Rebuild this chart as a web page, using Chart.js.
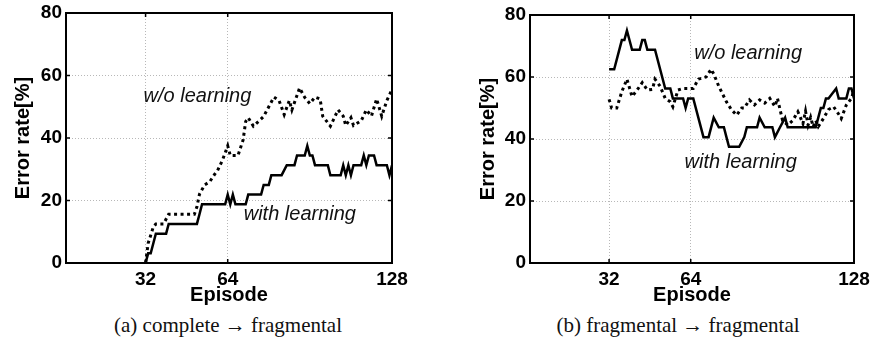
<!DOCTYPE html>
<html>
<head>
<meta charset="utf-8">
<script src="https://cdn.jsdelivr.net/npm/chart.js@4"></script>
<style>
  body { margin: 0; background: #fff; width: 870px; height: 352px; position: relative; overflow: hidden; }
  canvas { position: absolute; top: 0; }
  #chart-a { left: 0; }
  #chart-b { left: 430px; }
  .caption { position: absolute; top: 315px; font: 21px "Liberation Serif", "Times New Roman", serif; line-height: 21px; white-space: nowrap; transform: translateX(-50%); color: #111; }
</style>
</head>
<body>
<canvas id="chart-a" width="430" height="310"></canvas>
<canvas id="chart-b" width="440" height="310"></canvas>
<div class="caption" style="left:228px">(a) complete → fragmental</div>
<div class="caption" style="left:678px">(b) fragmental → fragmental</div>
<script>
const xTicks = [32, 64, 128];
const yTicks = [0, 20, 40, 60, 80];

// (a) complete -> fragmental
const aWithEp = [32, 33, 34, 36, 40, 41, 52, 53, 54, 63, 64, 65, 66, 67, 71, 72, 77, 78, 80, 81, 85, 87, 90, 91, 94, 95, 96, 97, 98, 103, 104, 108, 109, 110, 111, 112, 113, 116, 117, 118, 119, 121, 122, 126, 127, 128];
const aWithVal = [0, 3.1, 3.1, 9.4, 9.4, 12.5, 12.5, 15.6, 18.8, 18.8, 21.9, 18.8, 21.9, 18.8, 18.8, 21.9, 21.9, 25, 25, 28.1, 28.1, 31.3, 31.3, 34.4, 34.4, 37.5, 34.4, 34.4, 31.3, 31.3, 28.1, 28.1, 31.3, 28.1, 31.3, 28.1, 31.3, 31.3, 34.4, 31.3, 34.4, 34.4, 31.3, 31.3, 28.1, 31.3];
const aWithoutEp = [32, 33, 35, 36, 39, 41, 51, 52, 53, 55, 57, 59, 60, 62, 64, 65, 68, 70, 71, 72, 74, 76, 78, 80, 82, 84, 86, 88, 89, 92, 94, 96, 98, 100, 101, 104, 107, 109, 110, 112, 113, 116, 118, 120, 122, 124, 126, 128];
const aWithoutVal = [0, 6.3, 11.5, 12.5, 12.5, 15.6, 15.6, 18, 22, 25, 26, 28.5, 29.5, 33, 37.5, 34.4, 34.4, 39.4, 45.3, 46.5, 43.8, 45.3, 46.9, 50, 53.1, 52, 47.5, 52, 49, 56, 53, 51, 53.1, 52.5, 47, 43.8, 49, 47, 44, 46.5, 44, 45.5, 49, 47, 52.5, 47, 52, 55.5];

// (b) fragmental -> fragmental
const bWithEp = [32, 34, 37, 38, 39, 41, 44, 45, 46, 47, 50, 54, 56, 57, 61, 62, 63, 65, 69, 71, 73, 75, 77, 78, 79, 83, 85, 86, 90, 91, 93, 96, 97, 99, 101, 102, 113, 114, 115, 116, 117, 118, 121, 122, 125, 126, 127, 128];
const bWithVal = [62.5, 62.5, 71.9, 71.9, 75, 68.8, 68.8, 71.9, 71.9, 68.8, 68.8, 56.3, 56.3, 53.1, 53.1, 50, 53.1, 53.1, 40.6, 40.6, 46.9, 43.8, 43.8, 40.6, 37.5, 37.5, 40.6, 43.8, 43.8, 46.9, 43.8, 43.8, 40.6, 43.8, 46.9, 43.8, 43.8, 46.9, 50, 50, 53.1, 53.1, 56.3, 53.1, 53.1, 56.3, 56.3, 53.1];
const bWithoutEp = [32, 33, 35, 37, 39, 41, 43, 45, 47, 49, 50, 52, 54, 56, 57, 59, 61, 65, 67, 70, 72, 73, 75, 78, 80, 82, 84, 85, 87, 89, 91, 93, 95, 97, 98, 100, 102, 104, 106, 108, 109, 110, 111, 112, 113, 114, 116, 118, 120, 122, 123, 125, 127, 128];
const bWithoutVal = [52.8, 50, 50, 55.3, 59.3, 53.7, 55.8, 58.2, 55.8, 56, 59.3, 57, 53.1, 52, 50.4, 55.8, 56.3, 56.3, 59.3, 60, 62.5, 61, 57, 52, 49.4, 47.7, 50, 50, 52.6, 51, 52.6, 51.6, 53.1, 50.5, 53.1, 46, 44.5, 46, 48.8, 45, 49, 44.5, 47, 44, 46, 44, 46.6, 49.5, 50.4, 48, 46.6, 51, 53.1, 55.8];

const sans = '"Liberation Sans", Arial, Helvetica, sans-serif';

function points(eps, vals) {
  return eps.map((e, i) => ({ x: e, y: vals[i] }));
}

// black box round the plot plus small inward ticks, then the curve labels
const framePlugin = {
  id: 'frame',
  afterDatasetsDraw(chart, args, opts) {
    const { ctx, chartArea: a, scales } = chart;
    ctx.save();
    ctx.strokeStyle = '#000';
    ctx.lineWidth = 1.5;
    ctx.beginPath();
    yTicks.forEach(v => {
      const y = scales.y.getPixelForValue(v);
      ctx.moveTo(a.left, y); ctx.lineTo(a.left + 4, y);
      ctx.moveTo(a.right, y); ctx.lineTo(a.right - 4, y);
    });
    xTicks.forEach(v => {
      const x = scales.x.getPixelForValue(v);
      ctx.moveTo(x, a.bottom); ctx.lineTo(x, a.bottom - 4);
      ctx.moveTo(x, a.top); ctx.lineTo(x, a.top + 4);
    });
    ctx.stroke();
    ctx.lineWidth = 2;
    ctx.strokeRect(a.left, a.top, a.right - a.left, a.bottom - a.top);

    ctx.fillStyle = '#111';
    ctx.font = 'italic 20px ' + sans;
    ctx.textAlign = 'center';
    ctx.textBaseline = 'middle';
    opts.labels.forEach(l => {
      ctx.fillText(l.text, scales.x.getPixelForValue(l.x), scales.y.getPixelForValue(l.y));
    });
    ctx.restore();
  }
};

function makeChart(id, withEp, withVal, withoutEp, withoutVal, layout, labels) {
  new Chart(document.getElementById(id), {
    type: 'line',
    data: {
      datasets: [
        {
          label: 'w/o learning',
          data: points(withoutEp, withoutVal),
          borderColor: '#000',
          borderWidth: 3,
          borderDash: [3, 3.5],
          borderCapStyle: 'butt',
          pointRadius: 0,
          tension: 0
        },
        {
          label: 'with learning',
          data: points(withEp, withVal),
          borderColor: '#000',
          borderWidth: 2.5,
          pointRadius: 0,
          tension: 0
        }
      ]
    },
    options: {
      responsive: false,
      animation: false,
      devicePixelRatio: 1,
      layout: { padding: layout.padding },
      plugins: {
        legend: { display: false },
        tooltip: { enabled: false },
        frame: { labels: labels }
      },
      scales: {
        x: {
          type: 'linear',
          min: 1,
          max: 128,
          afterBuildTicks: scale => { scale.ticks = xTicks.map(v => ({ value: v })); },
          afterFit: scale => {
            scale.height = layout.xHeight;
            scale.paddingLeft = 0;
            scale.paddingRight = 0;
          },
          grid: { color: '#b8b8b8', lineWidth: 1, drawTicks: false },
          border: { display: false, dash: [1, 2] },
          ticks: { color: '#000', padding: 5, font: { family: sans, size: 19, weight: 'bold' } },
          title: { display: true, text: 'Episode', color: '#000', padding: { top: 0, bottom: 3 }, font: { family: sans, size: 20, weight: 'bold' } }
        },
        y: {
          min: 0,
          max: 80,
          afterBuildTicks: scale => { scale.ticks = yTicks.map(v => ({ value: v })); },
          afterFit: scale => {
            scale.width = layout.yWidth;
            scale.paddingTop = 0;
            scale.paddingBottom = 0;
          },
          grid: { color: '#b8b8b8', lineWidth: 1, drawTicks: false },
          border: { display: false, dash: [1, 2] },
          ticks: { color: '#000', padding: 4, font: { family: sans, size: 19, weight: 'bold' } },
          title: { display: true, text: 'Error rate[%]', color: '#000', padding: { top: layout.titlePad, bottom: 0 }, font: { family: sans, size: 20, weight: 'bold' } }
        }
      }
    },
    plugins: [framePlugin]
  });
}

makeChart('chart-a', aWithEp, aWithVal, aWithoutEp, aWithoutVal,
  { padding: { left: 0, right: 38, top: 13, bottom: 0 }, yWidth: 66, xHeight: 47, titlePad: 11 },
  [{ text: 'w/o learning', x: 52.2, y: 53.4 }, { text: 'with learning', x: 92.1, y: 15.4 }]);

makeChart('chart-b', bWithEp, bWithVal, bWithoutEp, bWithoutVal,
  { padding: { left: 46, right: 16, top: 15, bottom: 0 }, yWidth: 54, xHeight: 47, titlePad: 0 },
  [{ text: 'w/o learning', x: 86.5, y: 67.7 }, { text: 'with learning', x: 83.6, y: 32.3 }]);
</script>
</body>
</html>
